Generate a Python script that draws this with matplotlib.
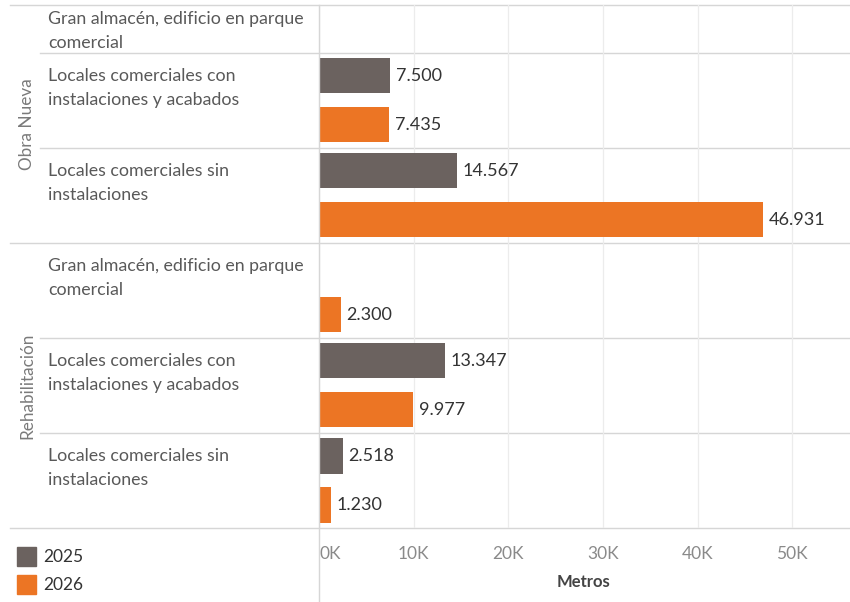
import matplotlib.pyplot as plt
from matplotlib.patches import Rectangle
from matplotlib.transforms import blended_transform_factory
from matplotlib.ticker import FuncFormatter

plt.rcParams['font.family'] = ['Lato', 'DejaVu Sans']

groups = ['Obra Nueva', 'Rehabilitación']
categories = ['Gran almacén, edificio en parque\ncomercial',
              'Locales comerciales con\ninstalaciones y acabados',
              'Locales comerciales sin\ninstalaciones']
years = ['2025', '2026']
# values per group, order as categories (None = no data)
obra_nueva_2025 = [None, 7500, 14567]
obra_nueva_2026 = [None, 7435, 46931]
rehab_2025 = [None, 13347, 2518]
rehab_2026 = [2300, 9977, 1230]

c25 = '#6b625f'
c26 = '#ec7524'
line_c = '#d6d6d6'

W, H = 850, 602
fig = plt.figure(figsize=(W / 100, H / 100), dpi=100)
ax = fig.add_axes([319 / W, 1 - 528 / H, 1 - 319 / W, (528 - 5) / H])
ax.set_xlim(0, 56100)
ax.set_ylim(5.5, 0.0)
for s in ax.spines.values():
    s.set_visible(False)

series_25 = obra_nueva_2025 + rehab_2025
series_26 = obra_nueva_2026 + rehab_2026
off = 0.258
bh = 0.37


def fmt(v):
    return f'{v:,}'.replace(',', '.')


for i in range(6):
    for vals, sign, col in ((series_25, -1, c25), (series_26, 1, c26)):
        v = vals[i]
        if v is None:
            continue
        y = i + sign * off
        ax.barh(y, v, height=bh, color=col, zorder=3)
        ax.annotate(fmt(v), (v, y), xytext=(4, 0), textcoords='offset points',
                    va='center', ha='left', fontsize=13, color='#333333')

# grid
ax.set_xticks([0, 10000, 20000, 30000, 40000, 50000])
ax.xaxis.set_major_formatter(FuncFormatter(lambda x, p: f'{int(x / 1000)}K'))
ax.grid(axis='x', color='#ececec', lw=0.9, zorder=0)
ax.set_yticks([])
ax.tick_params(axis='x', length=0, pad=13, labelsize=12.5, labelcolor='#8a8a8a')
lbls = ax.get_xticklabels()
lbls[0].set_ha('left')

# separators
tr = blended_transform_factory(fig.transFigure, ax.transData)
for yy, x0 in ((0.0, 10), (0.5, 40), (1.5, 40), (2.5, 10), (3.5, 40), (4.5, 40), (5.5, 10)):
    ax.plot([x0 / W, 1], [yy, yy], transform=tr, color=line_c, lw=1, clip_on=False, zorder=1)

# zero line through axis area
tr2 = blended_transform_factory(ax.transData, fig.transFigure)
ax.plot([0, 0], [0, 1 - 5 / H], transform=tr2, color=line_c, lw=1, clip_on=False, zorder=4)

# category labels
for i in range(6):
    cat = categories[i % 3]
    top = i - 0.5
    if i == 0:
        yc = 0.272
    else:
        yc = top + 0.37
    ax.text(48 / W, yc, cat, transform=tr, ha='left', va='center', fontsize=12.8,
            color='#595959', linespacing=1.6)

# group labels
ax.text(27 / W, 1.25, groups[0], transform=tr, rotation=90, ha='center', va='center',
        fontsize=12.3, color='#7a7a7a')
ax.text(27 / W, 4.0, groups[1], transform=tr, rotation=90, ha='center', va='center',
        fontsize=12.3, color='#7a7a7a')

# axis title
fig.text(584 / W, 1 - 582 / H, 'Metros', ha='center', va='center', fontsize=12,
         fontweight='bold', color='#444444')

# legend
for k, (yr, col) in enumerate(zip(years, (c25, c26))):
    ytop = 547 + 28 * k
    fig.add_artist(Rectangle((17 / W, 1 - (ytop + 19) / H), 19 / W, 19 / H,
                             transform=fig.transFigure, color=col))
    fig.text(43 / W, 1 - (ytop + 9.5) / H, yr, ha='left', va='center', fontsize=12.5,
             color='#333333')

fig.savefig('out.png', dpi=100)
